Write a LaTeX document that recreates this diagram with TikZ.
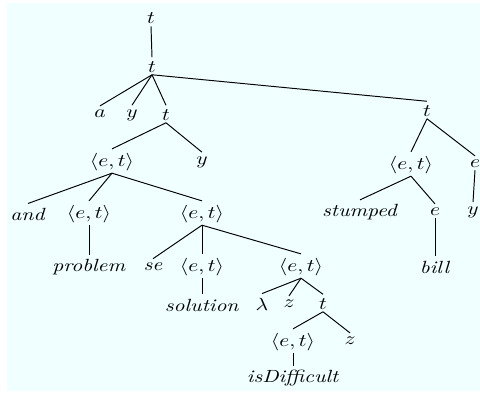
\documentclass[tikz,border=0pt]{standalone}
\usepackage{graphicx}
\definecolor{bgc}{RGB}{240,255,255}
\newcommand\sq[1]{\scalebox{1}[0.82]{#1}}
\newcommand\lnk[2]{\draw[lk] ([yshift=-0.9pt]#1.south) -- ([yshift=1.8pt]#2.north);}
\begin{document}
\begin{tikzpicture}[x=0.465pt,y=-0.465pt,
  every node/.style={inner sep=0pt},
  lk/.style={line width=0.45pt, black}]
\useasboundingbox (0,0) rectangle (480,394);
\fill[bgc] (7,3) rectangle (480,391);
\node (r) at (151,18.5) {\sq{$t$}};
\node (t1) at (152,67) {\sq{$t$}};
\node (a) at (100,114) {\sq{$a$}};
\node (y1) at (132,115) {\sq{$y$}};
\node (t2) at (166,115) {\sq{$t$}};
\node (et1) at (112,162) {\sq{$\langle e,t\rangle$}};
\node (y2) at (202,162) {\sq{$y$}};
\node (and) at (28,214) {\sq{\textit{and}}};
\node (et2) at (89,214) {\sq{$\langle e,t\rangle$}};
\node (et3) at (202,214) {\sq{$\langle e,t\rangle$}};
\node (prob) at (89,267) {\sq{\textit{problem}}};
\node (se) at (153,267) {\sq{\textit{se}}};
\node (et4) at (202,267) {\sq{$\langle e,t\rangle$}};
\node (et5) at (301,267) {\sq{$\langle e,t\rangle$}};
\node (sol) at (202,305) {\sq{\textit{solution}}};
\node (lam) at (262,304) {\sq{$\lambda$}};
\node (z1) at (289,304) {\sq{$z$}};
\node (t3) at (323,304) {\sq{$t$}};
\node (et6) at (293,342) {\sq{$\langle e,t\rangle$}};
\node (z2) at (350,341) {\sq{$z$}};
\node (isd) at (293,378) {\sq{\textit{isDifficult}}};
\node (t4) at (427,111) {\sq{$t$}};
\node (et7) at (411,165) {\sq{$\langle e,t\rangle$}};
\node (e1) at (475,164) {\sq{$e$}};
\node (stu) at (360,212) {\sq{\textit{stumped}}};
\node (e2) at (435,212) {\sq{$e$}};
\node (y3) at (473,212) {\sq{$y$}};
\node (bill) at (435,267) {\sq{\textit{bill}}};
\lnk{r}{t1}
\lnk{t1}{a}
\lnk{t1}{y1}
\lnk{t1}{t2}
\lnk{t1}{t4}
\lnk{t2}{et1}
\lnk{t2}{y2}
\lnk{et1}{and}
\lnk{et1}{et2}
\lnk{et1}{et3}
\lnk{et2}{prob}
\lnk{et3}{se}
\lnk{et3}{et4}
\lnk{et3}{et5}
\lnk{et4}{sol}
\lnk{et5}{lam}
\lnk{et5}{z1}
\lnk{et5}{t3}
\lnk{t3}{et6}
\lnk{t3}{z2}
\lnk{et6}{isd}
\lnk{t4}{et7}
\lnk{t4}{e1}
\lnk{et7}{stu}
\lnk{et7}{e2}
\lnk{e1}{y3}
\lnk{e2}{bill}
\end{tikzpicture}
\end{document}
